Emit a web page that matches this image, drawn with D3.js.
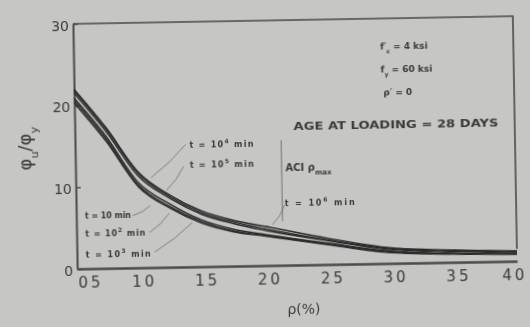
<!DOCTYPE html>
<html>
<head>
<meta charset="utf-8">
<script src="https://cdn.jsdelivr.net/npm/d3@7"></script>
<style>
  html, body { margin: 0; padding: 0; background: #c6c6c4; }
  svg { display: block; }
</style>
</head>
<body>
<div id="chart"></div>
<script>
// reinforcement ratio p (%)
const pct = [0.5, 0.75, 1.0, 1.25, 1.5, 1.75, 2.0, 2.5, 3.0, 3.5, 4.0];
// curvature ductility phi_u / phi_y, one array per load duration
const t10 = [20.3, 15.5, 9.9, 7.2, 5.3, 4.2, 3.6, 2.4, 1.3, 1.0, 0.85];
const t100 = [20.6, 15.8, 10.1, 7.4, 5.5, 4.3, 3.7, 2.5, 1.4, 1.05, 0.9];
const t1000 = [20.9, 16.1, 10.4, 7.7, 5.7, 4.5, 3.8, 2.6, 1.5, 1.1, 0.95];
const t1e4 = [21.5, 16.7, 11.2, 8.4, 6.4, 5.2, 4.3, 2.9, 1.7, 1.3, 1.1];
const t1e5 = [21.8, 17.0, 11.5, 8.6, 6.6, 5.4, 4.5, 3.0, 1.8, 1.4, 1.2];
const t1e6 = [22.0, 17.2, 11.7, 8.8, 6.8, 5.6, 4.8, 3.2, 1.9, 1.5, 1.25];
const seriesList = [t10, t100, t1000, t1e4, t1e5, t1e6];

const xTicks = [0.5, 1.0, 1.5, 2.0, 2.5, 3.0, 3.5, 4.0];
const xTickLabels = ["05", "10", "15", "20", "25", "30", "35", "40"];
const yTicks = [0, 10, 20, 30];
const aciRhoMax = 2.14;

var width = 530, height = 327;
var svg = d3.select("#chart").append("svg")
  .attr("width", width).attr("height", height);

svg.append("rect").attr("width", width).attr("height", height).attr("fill", "#c6c6c4");

var defs = svg.append("defs");
defs.append("filter").attr("id", "scan")
  .attr("x", "-5%").attr("y", "-5%").attr("width", "110%").attr("height", "110%")
  .append("feGaussianBlur").attr("stdDeviation", 0.55);

// the scanned figure sits slightly tilted
var g = svg.append("g")
  .attr("transform", "rotate(-1, 296, 142)")
  .attr("filter", "url(#scan)");

var x = d3.scaleLinear().domain([0.5, 4.0]).range([75, 515]);
var y = d3.scaleLinear().domain([0, 30]).range([265, 20]);

var ink = "#2a2a2a";
var textInk = "#3a3a3a";

// frame: top and right edges
g.append("path")
  .attr("d", `M${x(0.5)},${y(30)} L${x(4.0)},${y(30)} L${x(4.0)},${y(1.5)}`)
  .attr("fill", "none").attr("stroke", "#4a4a4a").attr("stroke-width", 1.6);

// y axis
var yAxis = g.append("g")
  .attr("transform", `translate(${x(0.5)},0)`)
  .call(d3.axisLeft(y).tickValues(yTicks).tickSizeInner(-5).tickSizeOuter(0).tickPadding(4));
yAxis.select(".domain").attr("stroke", "#4a4a4a").attr("stroke-width", 2);
yAxis.selectAll(".tick line").attr("stroke", "#4a4a4a").attr("stroke-width", 1.4);
yAxis.selectAll(".tick text")
  .attr("font-family", "DejaVu Sans, sans-serif").attr("font-size", "14px")
  .attr("fill", textInk).attr("dy", "0.45em");

// x axis
var xAxis = g.append("g")
  .attr("transform", `translate(0,${y(0)})`)
  .call(d3.axisBottom(x).tickValues(xTicks).tickSize(0).tickPadding(8)
    .tickFormat((d, i) => xTickLabels[i]));
xAxis.select(".domain").attr("stroke", "#4a4a4a").attr("stroke-width", 2.4);
xAxis.selectAll(".tick text")
  .attr("font-family", "DejaVu Sans, sans-serif").attr("font-size", "15px")
  .attr("letter-spacing", "3px").attr("fill", textInk)
  .attr("dx", (d, i) => (i === 0 ? 13 : i === xTicks.length - 1 ? -3 : 4));

// axis titles
g.append("text")
  .attr("x", 301).attr("y", 314)
  .attr("text-anchor", "middle")
  .attr("font-family", "DejaVu Sans, sans-serif").attr("font-size", "14px")
  .attr("fill", textInk)
  .text("ρ(%)");

var yTitle = g.append("text")
  .attr("transform", "translate(31,144) rotate(-90)")
  .attr("text-anchor", "middle")
  .attr("font-family", "DejaVu Sans, sans-serif").attr("font-size", "18px")
  .attr("fill", textInk);
yTitle.append("tspan").text("φ");
yTitle.append("tspan").attr("font-size", "11px").attr("baseline-shift", "sub").text("u");
yTitle.append("tspan").text("/φ");
yTitle.append("tspan").attr("font-size", "11px").attr("baseline-shift", "sub").text("y");

// curves
var line = d3.line()
  .x((d, i) => x(pct[i]))
  .y((d) => y(d))
  .curve(d3.curveMonotoneX);

seriesList.forEach((s) => {
  g.append("path")
    .datum(s)
    .attr("d", line)
    .attr("fill", "none")
    .attr("stroke", ink)
    .attr("stroke-width", 1.4);
});

// ACI rho max line
g.append("line")
  .attr("x1", x(aciRhoMax)).attr("x2", x(aciRhoMax))
  .attr("y1", y(15.3)).attr("y2", y(5.4))
  .attr("stroke", "#6a6a6a").attr("stroke-width", 0.9);

// leader lines [from p, from v, to p, to v]
const leaders = [
  [1.38, 15.0, 1.10, 11.0],
  [1.36, 12.3, 1.22, 9.4],
  [2.16, 7.4, 2.06, 5.0],
  [0.95, 6.4, 1.09, 7.6],
  [1.08, 4.3, 1.24, 6.6],
  [1.12, 1.9, 1.42, 5.4]
];
leaders.forEach((l) => {
  g.append("path")
    .attr("d", `M${x(l[0])},${y(l[1])} Q${x((l[0] + l[2]) / 2) + 2},${y((l[1] + l[3]) / 2) + 2} ${x(l[2])},${y(l[3])}`)
    .attr("fill", "none").attr("stroke", "#6e6e6e").attr("stroke-width", 0.8);
});

// annotations: [p, v, main text, superscript, tail, width]
const notes = [
  [0.57, 6.1, "t = 10", "", " min", 46],
  [0.57, 3.9, "t = 10", "2", " min", 60],
  [0.57, 1.4, "t = 10", "3", " min", 65],
  [1.41, 14.6, "t = 10", "4", " min", 64],
  [1.41, 12.1, "t = 10", "5", " min", 64],
  [2.16, 7.2, "t = 10", "6", " min", 70]
];
notes.forEach((n) => {
  var t = g.append("text")
    .attr("x", x(n[0])).attr("y", y(n[1]))
    .attr("font-family", "DejaVu Sans, sans-serif").attr("font-size", "8px")
    .attr("font-weight", "bold").attr("fill", textInk)
    .attr("textLength", n[5]).attr("lengthAdjust", "spacing");
  t.append("tspan").text(n[2]);
  if (n[3]) t.append("tspan").attr("font-size", "6px").attr("dy", "-4").text(n[3]);
  t.append("tspan").attr("dy", n[3] ? "4" : "0").text(n[4]);
});

var aci = g.append("text")
  .attr("x", x(2.17)).attr("y", y(11.5))
  .attr("font-family", "DejaVu Sans, sans-serif").attr("font-size", "10px")
  .attr("font-weight", "bold").attr("fill", textInk);
aci.append("tspan").text("ACI ρ");
aci.append("tspan").attr("font-size", "7px").attr("baseline-shift", "sub").text("max");

// material properties
var props = g.append("g")
  .attr("font-family", "DejaVu Sans, sans-serif").attr("font-size", "9px")
  .attr("font-weight", "bold").attr("fill", textInk);
var p1 = props.append("text").attr("x", x(2.94)).attr("y", y(26.2));
p1.append("tspan").text("f′");
p1.append("tspan").attr("font-size", "6px").attr("baseline-shift", "sub").text("c");
p1.append("tspan").text(" = 4 ksi");
var p2 = props.append("text").attr("x", x(2.94)).attr("y", y(23.4));
p2.append("tspan").text("f");
p2.append("tspan").attr("font-size", "6px").attr("baseline-shift", "sub").text("y");
p2.append("tspan").text(" = 60 ksi");
props.append("text").attr("x", x(2.96)).attr("y", y(20.6)).text("ρ′ = 0");
props.append("text").attr("x", x(2.24)).attr("y", y(16.5))
  .attr("font-size", "10px")
  .attr("textLength", 205).attr("lengthAdjust", "spacingAndGlyphs")
  .text("AGE AT LOADING = 28 DAYS");
</script>
</body>
</html>
